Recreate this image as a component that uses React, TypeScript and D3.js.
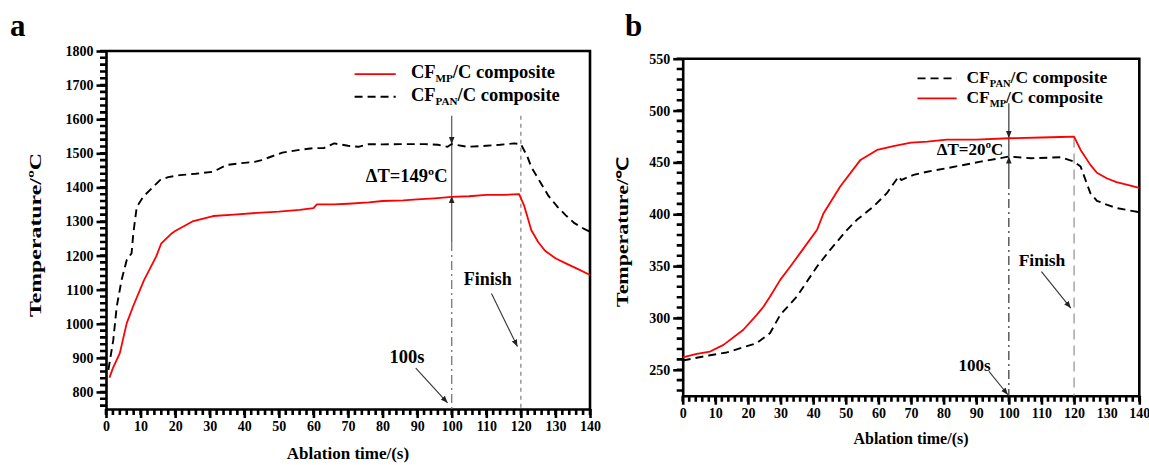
import React, { useEffect, useRef } from "react";
import * as d3 from "d3";

// panel a: CF_MP/C (red) and CF_PAN/C (black dashed)
const timeMpA = [1, 2, 4, 6, 8, 11, 14.5, 16, 19, 20, 25, 31, 37, 45, 50, 56, 60, 61, 66, 70, 76, 80, 86, 90, 95, 100, 105, 110, 115, 119.5, 121, 122, 123, 125, 127, 130, 133, 137, 140];
const tempMpA = [842, 870, 914, 1002, 1055, 1128, 1197, 1236, 1265, 1272, 1300, 1316, 1320, 1326, 1329, 1334, 1339, 1350, 1350, 1352, 1356, 1360, 1362, 1365, 1368, 1372, 1374, 1378, 1378, 1380, 1345, 1310, 1275, 1240, 1214, 1192, 1177, 1158, 1143];
const timePanA = [0.7, 2.1, 3.1, 4.5, 6, 7.4, 7.9, 8.9, 10.8, 13.2, 15.7, 18, 21.4, 26, 31, 35, 40, 43, 45, 51, 56, 60, 63, 66, 70, 73, 76, 80, 85, 92, 96, 98.8, 100, 104.6, 110, 114, 118, 120, 121.9, 123, 125.8, 128, 130.6, 133, 135.5, 138, 140];
const tempPanA = [865, 952, 1050, 1128, 1187, 1207, 1265, 1343, 1373, 1397, 1422, 1430, 1436, 1440, 1446, 1466, 1472, 1475, 1480, 1502, 1510, 1515, 1515, 1529, 1522, 1519, 1527, 1526, 1527, 1527, 1525, 1519, 1527, 1519, 1522, 1525, 1529, 1527, 1490, 1460, 1412, 1375, 1343, 1318, 1295, 1280, 1270];

// panel b
const timeMpB = [0, 4.3, 8.4, 12.5, 18.6, 22.7, 24.8, 26.8, 29.9, 33, 36, 41.2, 43.2, 48.3, 54.5, 59.6, 65, 70, 75, 81, 90, 100, 110, 116, 120, 122, 125, 127, 130, 133, 136.4, 140];
const tempMpB = [262, 265.4, 267.6, 274, 288.6, 303, 311, 320.6, 336.7, 349.6, 362.5, 385, 401, 426.7, 452.4, 462, 466, 469, 470, 472, 472, 473.3, 474, 474.5, 474.8, 462, 447.6, 440, 434.7, 431, 428.3, 425.5];
const timePanB = [0, 8.4, 13.5, 22.7, 26.8, 29.9, 35, 41.2, 45.2, 50.4, 53.4, 58.5, 62.6, 66.2, 67, 70.8, 75, 81, 91.3, 100, 106.8, 116, 120, 122, 125, 127, 130.2, 133, 136.4, 140];
const tempPanB = [259, 264, 266.7, 275.7, 285.4, 303, 320.6, 349.6, 365.6, 385, 394.6, 407.4, 420.3, 436.4, 433, 438, 441, 444.4, 450.7, 455.6, 454, 455, 450.7, 446, 420.3, 413, 409, 406, 404, 402];

const xTicks = d3.range(0, 141, 10);
const yTicksA = d3.range(800, 1801, 100);
const yTicksB = d3.range(250, 551, 50);

const FONT = "'Liberation Serif', 'Times New Roman', serif";

function drawPanel(svg, cfg) {
  const { left, right, top, bottom, yDomain, yTicks, yMinor, xMinor } = cfg;
  const x = d3.scaleLinear().domain([0, 140]).range([left, right]);
  const y = d3.scaleLinear().domain(yDomain).range([bottom, top]);
  const g = svg.append("g");

  // minor ticks
  const yMinorTicks = d3.range(Math.ceil(yDomain[0] / yMinor) * yMinor, yDomain[1] + 1, yMinor);
  const xMinorTicks = d3.range(0, 141, xMinor);
  g.append("path")
    .attr("d", yMinorTicks.map((d) => `M${left - 6},${y(d)}H${left}`).join(""))
    .attr("fill", "none").attr("stroke", "#000").attr("stroke-width", 2.6);
  g.append("path")
    .attr("d", xMinorTicks.map((d) => `M${x(d)},${bottom}V${bottom + 6}`).join(""))
    .attr("fill", "none").attr("stroke", "#000").attr("stroke-width", 2.6);

  const yAxis = g.append("g")
    .attr("transform", `translate(${left},0)`)
    .call(d3.axisLeft(y).tickValues(yTicks).tickSize(9.5).tickSizeOuter(0).tickPadding(3).tickFormat(d3.format("d")));
  const xAxis = g.append("g")
    .attr("transform", `translate(0,${bottom})`)
    .call(d3.axisBottom(x).tickValues(xTicks).tickSize(9).tickSizeOuter(0).tickPadding(3).tickFormat(d3.format("d")));
  [yAxis, xAxis].forEach((a) => {
    a.attr("font-family", FONT).attr("font-size", 14).attr("font-weight", "bold");
    a.selectAll("text").attr("fill", "#000");
    a.selectAll(".tick line").attr("stroke", "#000").attr("stroke-width", 2.6);
    a.select(".domain").attr("stroke", "#000").attr("stroke-width", 2.6);
  });

  // frame
  g.append("path")
    .attr("d", `M${left},${top}H${right}V${bottom}`)
    .attr("fill", "none")
    .attr("stroke", "#000")
    .attr("stroke-width", 2.6);

  return { x, y, g };
}

function seriesPath(g, x, y, ts, vs, color, dash, width) {
  const line = d3.line<number>().x((d) => x(ts[d])).y((d) => y(vs[d]));
  g.append("path")
    .attr("d", line(d3.range(ts.length)))
    .attr("fill", "none")
    .attr("stroke", color)
    .attr("stroke-width", width)
    .attr("stroke-dasharray", dash)
    .attr("stroke-linejoin", "round");
}

function label(g, x, y, text, size, anchor = "start") {
  return g.append("text")
    .attr("x", x).attr("y", y)
    .attr("font-family", FONT).attr("font-weight", "bold")
    .attr("font-size", size).attr("text-anchor", anchor)
    .text(text);
}

function legendText(g, x, y, sub, size) {
  const t = g.append("text")
    .attr("x", x).attr("y", y)
    .attr("font-family", FONT).attr("font-weight", "bold").attr("font-size", size);
  t.append("tspan").text("CF");
  t.append("tspan").attr("font-size", size * 0.6).attr("dy", 4).text(sub);
  t.append("tspan").attr("dy", -4).text("/C composite");
}

function arrow(g, x1, y1, x2, y2, color = "#333", w = 1.1) {
  g.append("line")
    .attr("x1", x1).attr("y1", y1).attr("x2", x2).attr("y2", y2)
    .attr("stroke", color).attr("stroke-width", w)
    .attr("marker-end", "url(#ah)");
}

export default function App() {
  const ref = useRef(null);

  useEffect(() => {
    const svg = d3.select(ref.current);
    svg.selectAll("*").remove();

    svg.append("defs").append("marker")
      .attr("id", "ah").attr("viewBox", "0 0 10 10")
      .attr("refX", 10).attr("refY", 5)
      .attr("markerWidth", 7).attr("markerHeight", 7)
      .attr("markerUnits", "userSpaceOnUse")
      .attr("orient", "auto")
      .append("path").attr("d", "M0,1L10,5L0,9Z").attr("fill", "#222");

    // ---------- panel a ----------
    const A = drawPanel(svg, { left: 106, right: 590, top: 51, bottom: 409, yDomain: [750, 1800], yTicks: yTicksA, yMinor: 20, xMinor: 2 });
    const ga = A.g, xa = A.x, ya = A.y;

    ga.append("line").attr("x1", xa(120)).attr("x2", xa(120)).attr("y1", ya(1610)).attr("y2", ya(750))
      .attr("stroke", "#888").attr("stroke-width", 1.3).attr("stroke-dasharray", "4,4");
    ga.append("line").attr("x1", xa(100)).attr("x2", xa(100)).attr("y1", ya(1240)).attr("y2", ya(750))
      .attr("stroke", "#777").attr("stroke-width", 1.3).attr("stroke-dasharray", "9,4,2,4");
    ga.append("line").attr("x1", xa(100)).attr("x2", xa(100)).attr("y1", ya(1527)).attr("y2", ya(1375))
      .attr("stroke", "#555").attr("stroke-width", 1.2);
    arrow(ga, xa(100), ya(1610), xa(100), ya(1527), "#555", 1.2);
    arrow(ga, xa(100), ya(1240), xa(100), ya(1375), "#555", 1.2);

    seriesPath(ga, xa, ya, timePanA, tempPanA, "#000", "8,5", 1.9);
    seriesPath(ga, xa, ya, timeMpA, tempMpA, "#ff0000", null, 1.8);

    label(ga, xa(98.8), ya(1416), "\u0394T=149ºC", 18.5, "end");
    label(ga, xa(103.5), ya(1114), "Finish", 18);
    arrow(ga, xa(111.5), ya(1089), xa(119), ya(933));
    label(ga, xa(82), ya(885), "100s", 18.5);
    arrow(ga, xa(89.6), ya(870), xa(98.8), ya(768));

    // legend a
    ga.append("line").attr("x1", xa(71.9)).attr("x2", xa(83.8)).attr("y1", ya(1732)).attr("y2", ya(1732))
      .attr("stroke", "#ff0000").attr("stroke-width", 1.8);
    legendText(ga, xa(88.2), ya(1720), "MP", 18.5);
    ga.append("line").attr("x1", xa(71.9)).attr("x2", xa(83.8)).attr("y1", ya(1666)).attr("y2", ya(1666))
      .attr("stroke", "#000").attr("stroke-width", 1.9).attr("stroke-dasharray", "8,5");
    legendText(ga, xa(88.2), ya(1653), "PAN", 18.5);

    label(svg, 348, 459, "Ablation time/(s)", 17, "middle");
    label(svg, 0, 0, "Temperature/ºC", 17, "middle")
      .attr("textLength", 164).attr("lengthAdjust", "spacingAndGlyphs")
      .attr("transform", "translate(41,235) rotate(-90)");
    label(svg, 10, 36, "a", 31);

    // ---------- panel b ----------
    const B = drawPanel(svg, { left: 682.7, right: 1139.3, top: 58.7, bottom: 395.7, yDomain: [225, 550], yTicks: yTicksB, yMinor: 10, xMinor: 2 });
    const gb = B.g, xb = B.x, yb = B.y;

    gb.append("line").attr("x1", xb(120)).attr("x2", xb(120)).attr("y1", yb(474)).attr("y2", yb(225))
      .attr("stroke", "#999").attr("stroke-width", 1.3).attr("stroke-dasharray", "10,6");
    gb.append("line").attr("x1", xb(100)).attr("x2", xb(100)).attr("y1", yb(433)).attr("y2", yb(225))
      .attr("stroke", "#333").attr("stroke-width", 1.2).attr("stroke-dasharray", "9,4,2,4");
    gb.append("line").attr("x1", xb(100)).attr("x2", xb(100)).attr("y1", yb(473.5)).attr("y2", yb(455.6))
      .attr("stroke", "#333").attr("stroke-width", 1.2);
    arrow(gb, xb(100), yb(507), xb(100), yb(473.5), "#333", 1.2);
    arrow(gb, xb(100), yb(433), xb(100), yb(455.6), "#333", 1.2);

    seriesPath(gb, xb, yb, timePanB, tempPanB, "#000", "8,5", 1.9);
    seriesPath(gb, xb, yb, timeMpB, tempMpB, "#ff0000", null, 1.8);

    label(gb, xb(98.3), yb(457.2), "\u0394T=20ºC", 17, "end");
    label(gb, xb(103), yb(350.2), "Finish", 17.5);
    arrow(gb, xb(110), yb(344.7), xb(119), yb(309.5));
    label(gb, xb(84.6), yb(248.4), "100s", 17);
    arrow(gb, xb(93.9), yb(248.4), xb(99.7), yb(225.9));

    // legend b
    gb.append("line").attr("x1", xb(72)).attr("x2", xb(84)).attr("y1", yb(531)).attr("y2", yb(531))
      .attr("stroke", "#000").attr("stroke-width", 1.9).attr("stroke-dasharray", "8,5");
    legendText(gb, xb(87), yb(526.6), "PAN", 17.5);
    gb.append("line").attr("x1", xb(72)).attr("x2", xb(84)).attr("y1", yb(511.8)).attr("y2", yb(511.8))
      .attr("stroke", "#ff0000").attr("stroke-width", 1.8);
    legendText(gb, xb(87), yb(507), "MP", 17.5);

    label(svg, 911, 444, "Ablation time/(s)", 16, "middle");
    label(svg, 0, 0, "Temperature/℃", 16, "middle")
      .attr("textLength", 150).attr("lengthAdjust", "spacingAndGlyphs")
      .attr("transform", "translate(628,232) rotate(-90)");
    label(svg, 625, 36, "b", 31);
  }, []);

  return (
    <svg
      ref={ref}
      width={1149}
      height={465}
      style={{ position: "absolute", left: 0, top: 0, background: "#fff" }}
    />
  );
}
